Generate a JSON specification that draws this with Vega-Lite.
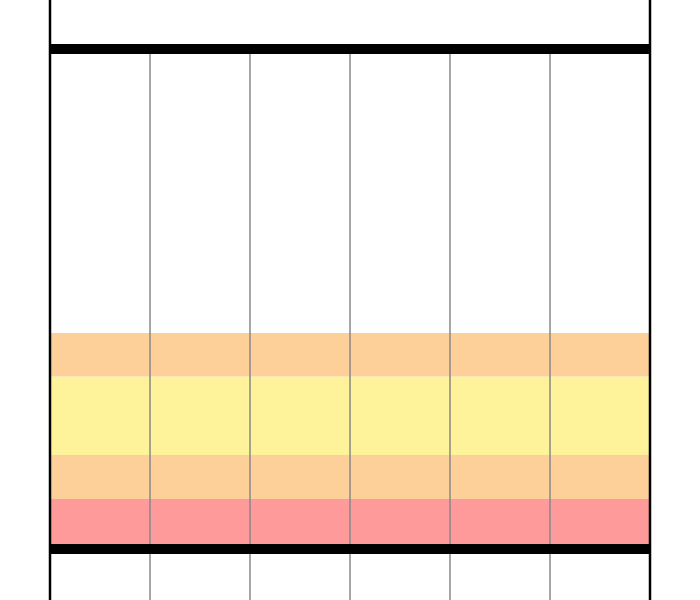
{
  "$schema": "https://vega.github.io/schema/vega-lite/v6.json",
  "width": 700,
  "height": 600,
  "padding": 0,
  "autosize": {"type": "none"},
  "background": "white",
  "config": {"view": {"stroke": null}},
  "datasets": {
    "bands": [
      {"x0": 0, "x1": 6, "y0": 0, "y1": 10, "zone": "red"},
      {"x0": 0, "x1": 6, "y0": 10, "y1": 18.8, "zone": "orange"},
      {"x0": 0, "x1": 6, "y0": 18.8, "y1": 34.5, "zone": "yellow"},
      {"x0": 0, "x1": 6, "y0": 34.5, "y1": 43.2, "zone": "orange"}
    ],
    "inner": [
      {"x": 1, "ytop": 100, "ybot": -10.2},
      {"x": 2, "ytop": 100, "ybot": -10.2},
      {"x": 3, "ytop": 100, "ybot": -10.2},
      {"x": 4, "ytop": 100, "ybot": -10.2},
      {"x": 5, "ytop": 100, "ybot": -10.2}
    ],
    "outer": [{"x": 0}, {"x": 6}],
    "limits": [{"x0": 0, "x1": 6, "y": 0}, {"x0": 0, "x1": 6, "y": 100}]
  },
  "layer": [
    {
      "data": {"name": "bands"},
      "mark": {"type": "rect"},
      "encoding": {
        "x": {"field": "x0", "type": "quantitative", "scale": {"domain": [-0.5, 6.5], "nice": false, "zero": false}, "axis": null},
        "x2": {"field": "x1"},
        "y": {"field": "y0", "type": "quantitative", "scale": {"domain": [-10.2, 109.8], "nice": false, "zero": false}, "axis": null},
        "y2": {"field": "y1"},
        "color": {"field": "zone", "type": "nominal", "legend": null,
          "scale": {"domain": ["red", "orange", "yellow"], "range": ["#fe9a9a", "#fdd09a", "#fef39a"]}}
      }
    },
    {
      "data": {"name": "inner"},
      "mark": {"type": "rule", "color": "#888888", "strokeWidth": 1.5},
      "encoding": {
        "x": {"field": "x", "type": "quantitative"},
        "y": {"field": "ytop", "type": "quantitative"},
        "y2": {"field": "ybot"}
      }
    },
    {
      "data": {"name": "outer"},
      "mark": {"type": "rule", "color": "#000000", "strokeWidth": 2.5},
      "encoding": {"x": {"field": "x", "type": "quantitative"}}
    },
    {
      "data": {"name": "limits"},
      "mark": {"type": "rule", "color": "#000000", "strokeWidth": 10},
      "encoding": {
        "x": {"field": "x0", "type": "quantitative"},
        "x2": {"field": "x1"},
        "y": {"field": "y", "type": "quantitative"}
      }
    }
  ]
}
